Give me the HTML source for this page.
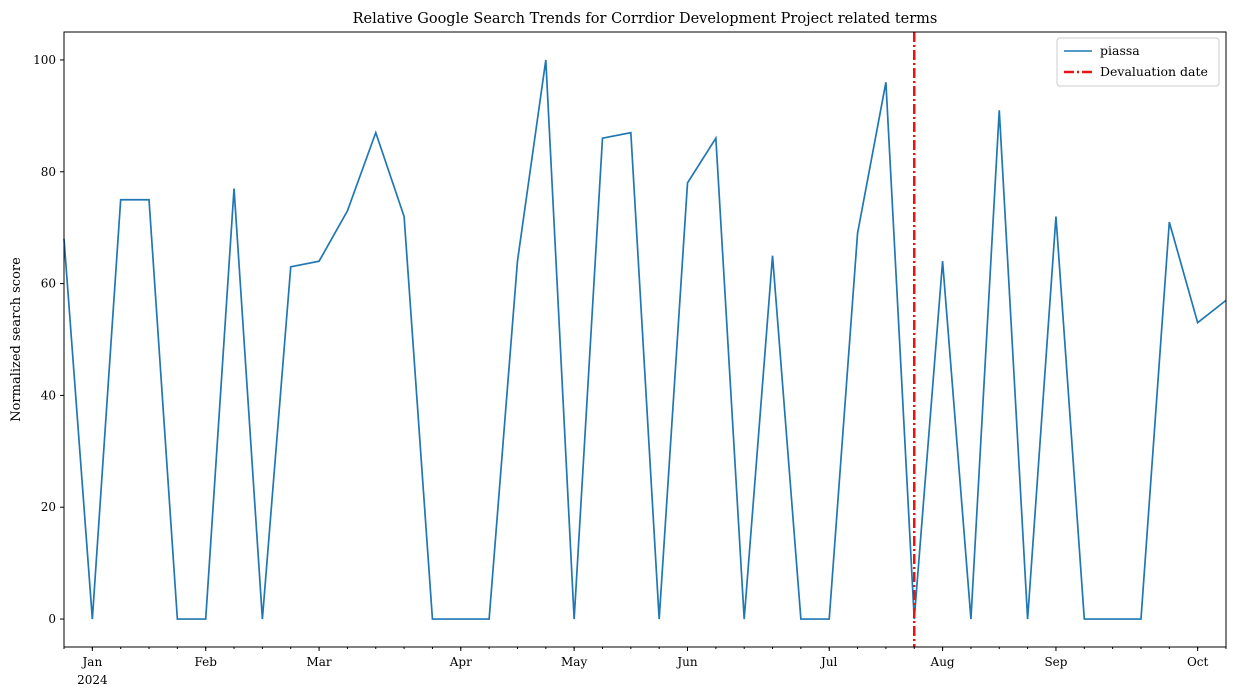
<!DOCTYPE html>
<html><head><meta charset="utf-8"><style>
html,body{margin:0;padding:0;background:#fff;}
svg{display:block;font-family:"DejaVu Serif","Liberation Serif",serif;}
</style></head><body>
<svg id="chart" width="1236" height="699"></svg>
<script>
const values=[68,0,75,75,0,0,77,0,63,64,73,87,72,0,0,0,64,100,0,86,87,0,78,86,0,65,0,0,69,96,0,64,0,91,0,72,0,0,0,71,53,57];
const monthLabels=["Jan","Feb","Mar","Apr","May","Jun","Jul","Aug","Sep","Oct"];
const monthIdx=[1,5,9,14,18,22,27,31,35,40];
const yTicks=[0,20,40,60,80,100];
const devalIdx=30;
const NS="http://www.w3.org/2000/svg";
const svg=document.getElementById('chart');
const L=64,R=1226,T=32,B=647;
const n=values.length;
const x=i=>L+(R-L)*i/(n-1);
const y=v=>B-(v+5)/110*(B-T);
function mk(tag,attrs,parent){const e=document.createElementNS(NS,tag);for(const k in attrs)e.setAttribute(k,attrs[k]);(parent||svg).appendChild(e);return e;}
const title=mk('text',{x:(L+R)/2,y:23,'text-anchor':'middle','font-size':14.5,fill:'#000'});
title.textContent='Relative Google Search Trends for Corrdior Development Project related terms';


const yl=mk('text',{x:20,y:(T+B)/2,'text-anchor':'middle','font-size':13,transform:`rotate(-90 20 ${(T+B)/2})`});
yl.textContent='Normalized search score';


yTicks.forEach(v=>{
  mk('line',{x1:L-4,x2:L,y1:y(v),y2:y(v),stroke:'#000'});
  const t=mk('text',{x:L-8,y:y(v)+4,'text-anchor':'end','font-size':12});
  t.textContent=v;
  
  
});
for(let i=0;i<n;i++){mk('line',{x1:x(i),x2:x(i),y1:B,y2:B+2,stroke:'#000'});}
monthIdx.forEach((idx,k)=>{
  mk('line',{x1:x(idx),x2:x(idx),y1:B,y2:B+4,stroke:'#000'});
  const t=mk('text',{x:x(idx),y:B+19,'text-anchor':'middle','font-size':12});
  t.textContent=monthLabels[k];
  
  
});
const yr=mk('text',{x:x(1),y:B+37,'text-anchor':'middle','font-size':12});
yr.textContent='2024';


const line=mk('polyline',{points:values.map((v,i)=>x(i)+','+y(v)).join(' '),fill:'none',stroke:'#1f77b4','stroke-width':1.7});


const dv=mk('line',{x1:x(devalIdx),x2:x(devalIdx),y1:T,y2:B,stroke:'#e8140f','stroke-width':2.5,'stroke-dasharray':'10,3,2,3'});


mk('rect',{x:L,y:T,width:R-L,height:B-T,fill:'none',stroke:'#000','stroke-width':1});
const lg=mk('g',{});


mk('rect',{x:1057,y:38,width:162,height:48,rx:3,fill:'#fff',stroke:'#ccc'},lg);
mk('line',{x1:1064,x2:1092,y1:51,y2:51,stroke:'#1f77b4','stroke-width':1.6},lg);
const t1=mk('text',{x:1100,y:55,'font-size':12.5},lg);t1.textContent='piassa';


mk('line',{x1:1064,x2:1092,y1:72,y2:72,stroke:'#e8140f','stroke-width':2.5,'stroke-dasharray':'10,3,2,3'},lg);
const t2=mk('text',{x:1100,y:76,'font-size':12.5},lg);t2.textContent='Devaluation date';


</script>
</body></html>
